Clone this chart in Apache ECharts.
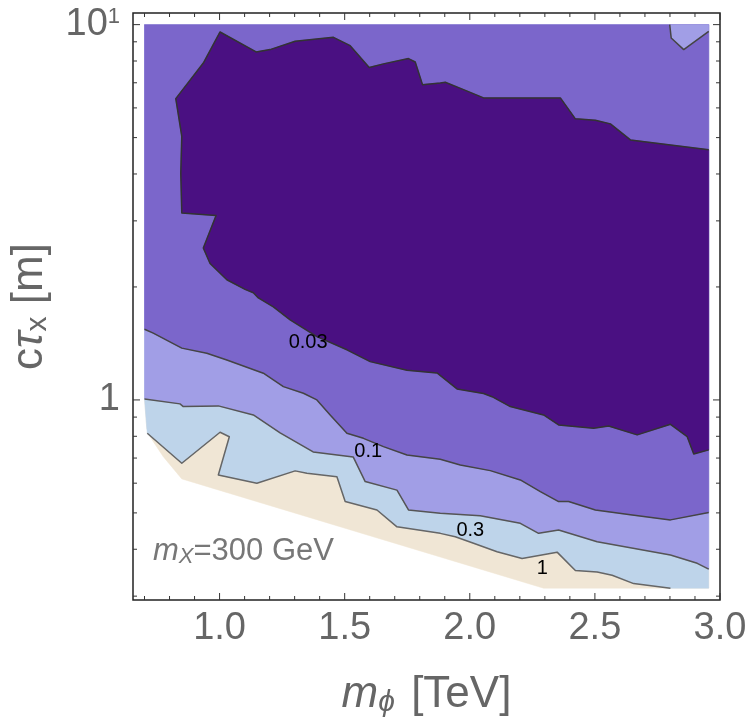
<!DOCTYPE html>
<html>
<head>
<meta charset="utf-8">
<script src="https://cdn.jsdelivr.net/npm/echarts@6/dist/echarts.min.js"></script>
<style>html,body{margin:0;background:#fff}#chart{width:750px;height:725px}</style>
</head>
<body>
<div id="chart"></div>
<script>
const FONT = 'Liberation Sans, Arial, sans-serif'

// axis ticks
const xMajorTicks = [1.0, 1.5, 2.0, 2.5, 3.0]
const xMinorTicks = [0.7, 0.8, 0.9, 1.1, 1.2, 1.3, 1.4, 1.6, 1.7, 1.8, 1.9, 2.1, 2.2, 2.3, 2.4, 2.6, 2.7, 2.8, 2.9]
const yMajorTicks = [1, 10]
const yMinorTicks = [0.3, 0.4, 0.5, 0.6, 0.7, 0.8, 0.9, 2, 3, 4, 5, 6, 7, 8, 9]

// edge of the computed region (m_phi [TeV], c tau [m])
const domainTop = [[0.7, 10], [2.955, 10]]
const domainBottom = [[2.955, 0.315], [2.295, 0.315], [0.849, 0.616], [0.775, 0.706], [0.722, 0.798], [0.709, 0.841], [0.7, 1.006]]

// contour lines
const contour1 = [[0.711, 0.815], [0.849, 0.678], [1.002, 0.820], [1.039, 0.798], [0.995, 0.631], [1.149, 0.600],
  [1.302, 0.647], [1.349, 0.638], [1.469, 0.624], [1.502, 0.536], [1.629, 0.509], [1.709, 0.459], [1.882, 0.441],
  [1.942, 0.432], [2.015, 0.415], [2.109, 0.394], [2.209, 0.378], [2.349, 0.393], [2.422, 0.351], [2.509, 0.348],
  [2.569, 0.341], [2.655, 0.324], [2.802, 0.315]]
const contour03 = [[0.7, 1.006], [0.842, 0.976], [0.855, 0.960], [0.995, 0.964], [1.135, 0.912], [1.242, 0.817],
  [1.374, 0.727], [1.534, 0.705], [1.582, 0.606], [1.709, 0.575], [1.755, 0.509], [1.882, 0.499], [2.042, 0.491],
  [2.202, 0.469], [2.275, 0.441], [2.355, 0.450], [2.509, 0.419], [2.802, 0.386], [2.909, 0.367], [2.955, 0.354]]
const contour01 = [[0.7, 1.543], [0.735, 1.506], [0.849, 1.374], [0.949, 1.332], [1.029, 1.278], [1.175, 1.178],
  [1.215, 1.131], [1.255, 1.085], [1.335, 1.042], [1.389, 1.0], [1.442, 0.912], [1.509, 0.815], [1.575, 0.790],
  [1.655, 0.751], [1.749, 0.713], [1.882, 0.695], [1.962, 0.671], [2.082, 0.648], [2.202, 0.612], [2.282, 0.570],
  [2.355, 0.536], [2.395, 0.536], [2.502, 0.509], [2.642, 0.494], [2.802, 0.479], [2.955, 0.501]]
const contour003 = [[2.955, 0.736], [2.895, 0.718], [2.869, 0.798], [2.802, 0.861], [2.669, 0.807], [2.555, 0.852],
  [2.495, 0.841], [2.355, 0.858], [2.295, 0.912], [2.162, 0.960], [2.089, 1.02], [2.055, 1.04], [1.949, 1.07],
  [1.869, 1.18], [1.749, 1.20], [1.602, 1.265], [1.509, 1.36], [1.389, 1.475], [1.282, 1.635], [1.215, 1.77],
  [1.155, 1.87], [1.135, 1.93], [1.102, 1.97], [1.029, 2.09], [0.962, 2.31], [0.935, 2.54], [0.986, 3.10],
  [0.849, 3.15], [0.845, 4.02], [0.849, 5.04], [0.825, 6.35], [0.935, 7.90], [1.002, 9.56], [1.146, 8.46],
  [1.202, 8.58], [1.302, 9.03], [1.455, 9.25], [1.522, 8.79], [1.598, 7.69], [1.655, 7.86], [1.755, 8.12],
  [1.782, 7.95], [1.811, 6.92], [1.882, 6.99], [1.902, 7.02], [1.975, 6.71], [2.055, 6.38], [2.362, 6.38],
  [2.422, 5.61], [2.502, 5.56], [2.562, 5.44], [2.642, 4.93], [2.955, 4.64]]
// small patch in the top right corner
const cornerPatch = [[2.799, 10], [2.805, 9.21], [2.855, 8.58], [2.955, 9.60]]

// contour labels
const labelTexts = ['0.03', '0.1', '0.3', '1']
const labelPos = [[1.354, 1.42], [1.594, 0.727], [2.002, 0.450], [2.29, 0.356]]

const colors = {
  tan: '#F0E6D5',
  lightBlue: '#BED4EA',
  light: '#A19EE6',
  medium: '#7B66CB',
  dark: '#4A1082'
}

const regions = [
  { pts: domainTop.concat(domainBottom), color: colors.tan },
  { pts: contour1.concat([[2.955, 0.315], [2.955, 10], [0.7, 10], [0.7, 1.006], [0.709, 0.841]]), color: colors.lightBlue },
  { pts: contour03.concat([[2.955, 10], [0.7, 10]]), color: colors.light },
  { pts: contour01.concat([[2.955, 10], [0.7, 10]]), color: colors.medium },
  { pts: contour003, color: colors.dark },
  { pts: cornerPatch.concat([[2.955, 10]]), color: colors.light }
]
const lines = [
  { pts: contour1, color: '#666' },
  { pts: contour03, color: '#555' },
  { pts: contour01, color: '#444' },
  { pts: contour003, color: '#333' },
  { pts: cornerPatch, color: '#444' }
]

const ticks = []
xMajorTicks.forEach(v => ticks.push({ dir: 'x', v, len: 7 }))
xMinorTicks.forEach(v => ticks.push({ dir: 'x', v, len: 4 }))
yMajorTicks.forEach(v => ticks.push({ dir: 'y', v, len: 7 }))
yMinorTicks.forEach(v => ticks.push({ dir: 'y', v, len: 4 }))

const chart = echarts.init(document.getElementById('chart'))

chart.setOption({
  animation: false,
  grid: {
    left: 133, right: 30, top: 13, bottom: 125,
    show: true, borderColor: '#222', borderWidth: 1.5
  },
  xAxis: {
    type: 'value',
    min: 0.654,
    max: 3.0,
    name: '{i|m}{s|ϕ} [TeV]',
    nameLocation: 'middle',
    nameGap: 72,
    nameTextStyle: {
      fontFamily: FONT, fontSize: 44, color: '#666',
      rich: {
        i: { fontFamily: FONT, fontSize: 44, fontStyle: 'italic', color: '#666' },
        s: { fontFamily: FONT, fontSize: 30, fontStyle: 'italic', color: '#666', verticalAlign: 'bottom', padding: [16, 4, 0, 0] }
      }
    },
    axisLine: { show: false },
    axisTick: { show: false },
    splitLine: { show: false },
    axisLabel: {
      customValues: xMajorTicks,
      formatter: v => v.toFixed(1),
      fontFamily: FONT, fontSize: 38, color: '#666', margin: 10
    }
  },
  yAxis: {
    type: 'log',
    min: 0.293,
    max: 10.74,
    name: 'c{i|τ}{s|x} [m]',
    nameLocation: 'middle',
    nameGap: 80,
    nameTextStyle: {
      fontFamily: FONT, fontSize: 44, color: '#666',
      rich: {
        i: { fontFamily: FONT, fontSize: 44, fontStyle: 'italic', color: '#666' },
        s: { fontFamily: FONT, fontSize: 30, color: '#666', verticalAlign: 'bottom', padding: [16, 0, 0, 0] }
      }
    },
    axisLine: { show: false },
    axisTick: { show: false },
    splitLine: { show: false },
    axisLabel: {
      customValues: yMajorTicks,
      formatter: v => (v > 5 ? '10{sup|1}' : '1'),
      fontFamily: FONT, fontSize: 38, color: '#666', margin: 13,
      rich: {
        sup: { fontFamily: FONT, fontSize: 22, color: '#666', verticalAlign: 'top', padding: [0, 0, 12, 0] }
      }
    }
  },
  graphic: [{
    type: 'text',
    left: 153,
    top: 536,
    style: {
      text: '{i|m}{s|X}=300 GeV',
      fontFamily: FONT, fontSize: 31, fill: '#777',
      rich: {
        i: { fontFamily: FONT, fontSize: 31, fontStyle: 'italic', fill: '#777' },
        s: { fontFamily: FONT, fontSize: 22, fontStyle: 'italic', fill: '#777', verticalAlign: 'bottom', padding: [11, 0, 0, 0] }
      }
    }
  }],
  series: [
    {
      name: 'regions',
      type: 'custom',
      silent: true,
      data: regions.map(() => [1, 1]),
      renderItem(params, api) {
        const r = regions[params.dataIndex]
        return {
          type: 'polygon',
          shape: { points: r.pts.map(p => api.coord(p)) },
          style: { fill: r.color, stroke: r.color, lineWidth: 0.5 }
        }
      }
    },
    {
      name: 'contours',
      type: 'custom',
      silent: true,
      data: lines.map(() => [1, 1]),
      renderItem(params, api) {
        const l = lines[params.dataIndex]
        return {
          type: 'polyline',
          shape: { points: l.pts.map(p => api.coord(p)) },
          style: { fill: null, stroke: l.color, lineWidth: 1.5, lineJoin: 'round' }
        }
      }
    },
    {
      name: 'labels',
      type: 'custom',
      silent: true,
      data: labelTexts.map(() => [1, 1]),
      renderItem(params, api) {
        const p = api.coord(labelPos[params.dataIndex])
        return {
          type: 'text',
          x: p[0], y: p[1],
          style: {
            text: labelTexts[params.dataIndex],
            fontFamily: FONT, fontSize: 20, fill: '#000',
            align: 'center', verticalAlign: 'middle'
          }
        }
      }
    },
    {
      name: 'ticks',
      type: 'custom',
      silent: true,
      clip: false,
      data: ticks.map(() => [1, 1]),
      renderItem(params, api) {
        const t = ticks[params.dataIndex]
        const cs = params.coordSys
        const st = { stroke: '#333', lineWidth: 1 }
        if (t.dir === 'x') {
          const x = api.coord([t.v, 1])[0]
          return {
            type: 'group',
            children: [
              { type: 'line', shape: { x1: x, y1: cs.y + cs.height, x2: x, y2: cs.y + cs.height - t.len }, style: st },
              { type: 'line', shape: { x1: x, y1: cs.y, x2: x, y2: cs.y + t.len }, style: st }
            ]
          }
        }
        const y = api.coord([1, t.v])[1]
        return {
          type: 'group',
          children: [
            { type: 'line', shape: { x1: cs.x, y1: y, x2: cs.x + t.len, y2: y }, style: st },
            { type: 'line', shape: { x1: cs.x + cs.width, y1: y, x2: cs.x + cs.width - t.len, y2: y }, style: st }
          ]
        }
      }
    }
  ]
})
</script>
</body>
</html>
